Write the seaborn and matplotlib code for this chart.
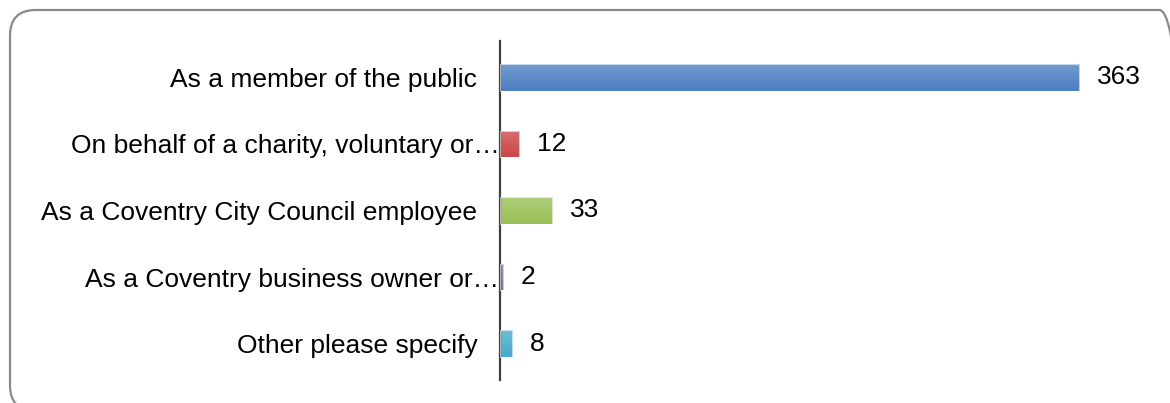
import numpy as np
import pandas as pd
import seaborn as sns
import matplotlib.pyplot as plt
from matplotlib.patches import FancyBboxPatch
from matplotlib.colors import LinearSegmentedColormap, to_rgb
from matplotlib.transforms import ScaledTranslation

# data
categories = [
    "As a member of the public",
    "On behalf of a charity, voluntary or…",
    "As a Coventry City Council employee",
    "As a Coventry business owner or…",
    "Other please specify",
]
counts = [363, 12, 33, 2, 8]
bar_colors = ["#4a7fc2", "#cc4646", "#98bf55", "#8565b3", "#44abcb"]

df = pd.DataFrame({"category": categories, "count": counts})

sns.set_style("white")
plt.rcParams["font.family"] = ["Liberation Sans", "DejaVu Sans"]

fig = plt.figure(figsize=(11.7, 4.03), dpi=100)
W, H = 1170, 403
ax = fig.add_axes([499.5 / W, 1 - 377 / H, (1138 - 499.5) / W, (377 - 44) / H])

sns.barplot(data=df, x="count", y="category", hue="category", palette=bar_colors,
            legend=False, orient="h", width=0.4, ax=ax)

# excel-like vertical gradient on each bar (lighter on top)
for patch, col in zip(ax.patches, bar_colors):
    base = np.array(to_rgb(col))
    light = base + (1 - base) * 0.22
    cmap = LinearSegmentedColormap.from_list("g", [light, base])
    x0, y0 = patch.get_x(), patch.get_y()
    w, h = patch.get_width(), patch.get_height()
    grad = np.linspace(0, 1, 64).reshape(-1, 1)
    im = ax.imshow(grad, cmap=cmap, aspect="auto", extent=[x0, x0 + w, y0 + h, y0],
                   origin="upper", zorder=2)
    im.set_clip_path(patch)
    patch.set_edgecolor((1, 1, 1, 0.6))
    patch.set_linewidth(0.8)
    patch.set_zorder(3)
    patch.set_facecolor("none")

ax.set_xlim(0, 400)
ax.set_ylim(len(categories) - 0.5, -0.5)

for i, v in enumerate(counts):
    ax.annotate(str(v), xy=(v, i), xytext=(13, 0), textcoords="offset points",
                ha="left", va="center", fontsize=19, color="black")

ax.set_xlabel("")
ax.set_ylabel("")
ax.set_xticks([])
ax.tick_params(axis="y", length=0, pad=16, labelsize=19, labelcolor="black")

# truncated labels sit further right, their ellipsis running under the axis
shift = ScaledTranslation(22 / 100, 0, fig.dpi_scale_trans)
for lab in ax.get_yticklabels():
    if lab.get_text().endswith("…"):
        lab.set_transform(lab.get_transform() + shift)

for s in ["top", "right", "bottom"]:
    ax.spines[s].set_visible(False)
ax.spines["left"].set_color("#404040")
ax.spines["left"].set_linewidth(1.6)
ax.spines["left"].set_bounds(-0.55, len(categories) - 0.45)

# rounded chart border, partly running off the image
border = FancyBboxPatch((10 / W, -8 / H), 1175 / W, 401 / H,
                        boxstyle="round,pad=0,rounding_size=0.022",
                        transform=fig.transFigure, fill=False,
                        edgecolor="#8a8a8a", linewidth=1.6,
                        mutation_aspect=W / H)
fig.patches.append(border)

fig.savefig("out.png", dpi=100, facecolor="white")
